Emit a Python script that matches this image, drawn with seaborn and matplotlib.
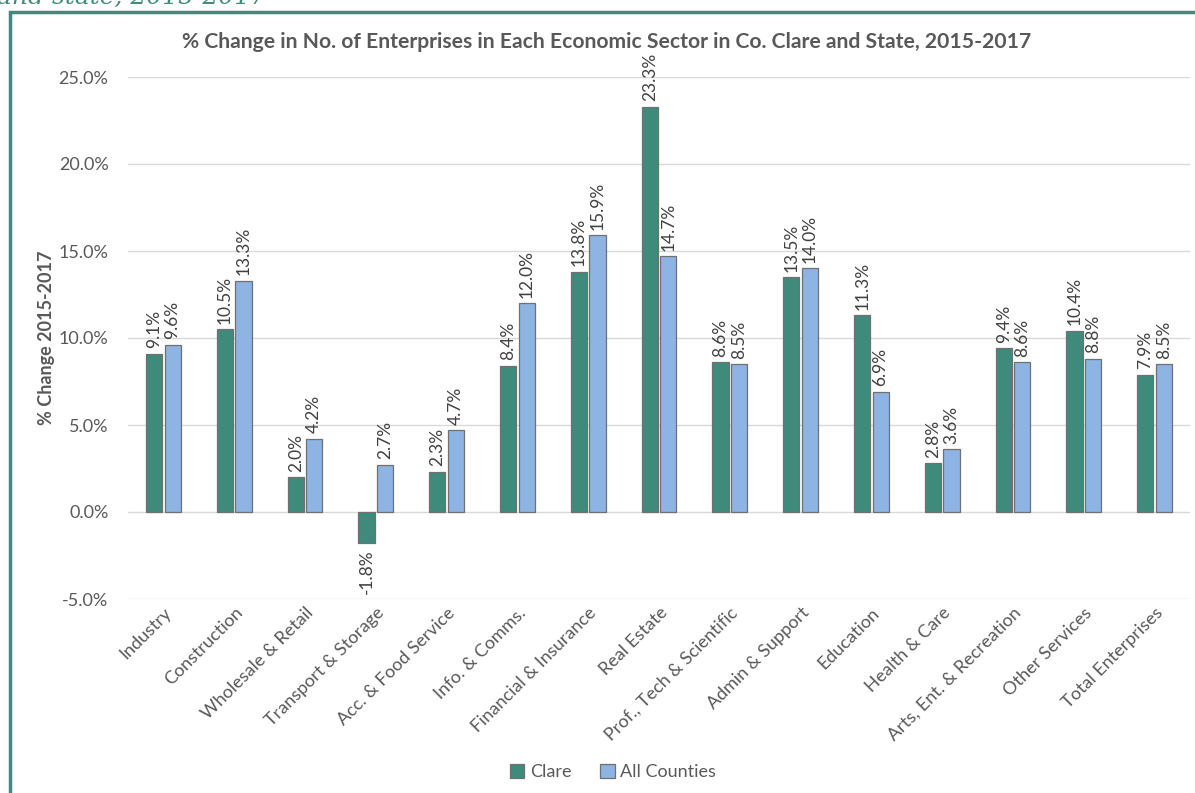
import matplotlib
matplotlib.use("Agg")
import matplotlib.pyplot as plt
import seaborn as sns
import pandas as pd
from matplotlib.ticker import FuncFormatter, MultipleLocator
from matplotlib.patches import Rectangle

sectors = ["Industry", "Construction", "Wholesale & Retail", "Transport & Storage",
           "Acc. & Food Service", "Info. & Comms.", "Financial & Insurance", "Real Estate",
           "Prof., Tech & Scientific", "Admin & Support", "Education", "Health & Care",
           "Arts, Ent. & Recreation", "Other Services", "Total Enterprises"]
clare = [9.1, 10.5, 2.0, -1.8, 2.3, 8.4, 13.8, 23.3, 8.6, 13.5, 11.3, 2.8, 9.4, 10.4, 7.9]
all_counties = [9.6, 13.3, 4.2, 2.7, 4.7, 12.0, 15.9, 14.7, 8.5, 14.0, 6.9, 3.6, 8.6, 8.8, 8.5]
series = ["Clare", "All Counties"]

df = pd.DataFrame({
    "Sector": sectors * 2,
    "Series": [series[0]] * len(sectors) + [series[1]] * len(sectors),
    "Value": clare + all_counties,
})

sns.set_theme(style="white")
plt.rcParams['font.family'] = ['Lato', 'DejaVu Sans']

fig = plt.figure(figsize=(11.95, 7.93), dpi=100)
ax = fig.add_axes([128/1195, 1-599/793, (1190-128)/1195, (599-77)/793])

palette = {"Clare": "#3E8A7B", "All Counties": "#8DB4E2"}
sns.barplot(data=df, x="Sector", y="Value", hue="Series", palette=palette, saturation=1,
            width=0.52, gap=0.12, edgecolor="#707070", linewidth=0.9,
            ax=ax, legend=True, zorder=3)

ax.set_ylim(-5, 25)
ax.yaxis.set_major_locator(MultipleLocator(5))
ax.yaxis.set_major_formatter(FuncFormatter(lambda v, p: f"{v:.1f}%"))
ax.grid(axis="y", color="#D9D9D9", linewidth=1.0, zorder=0)
ax.set_axisbelow(True)
for s in ax.spines.values():
    s.set_visible(False)
ax.tick_params(axis="both", length=0, labelsize=13, colors="#595959")
ax.tick_params(axis="y", pad=14)
ax.tick_params(axis="x", pad=4)
plt.setp(ax.get_xticklabels(), rotation=45, ha="right", rotation_mode="anchor")
ax.set_xlabel("")
ax.set_ylabel("% Change 2015-2017", fontsize=13, fontweight="bold", color="#595959", labelpad=3)

for cont in ax.containers:
    labels = [f"{b.get_height():.1f}%" for b in cont]
    ax.bar_label(cont, labels=labels, rotation=90, padding=4, fontsize=12.5, color="#404040")

leg = ax.legend(loc="center", bbox_to_anchor=((613-128)/1062, -173/522), ncol=2, frameon=False,
                fontsize=13, handlelength=0.8, handleheight=0.8, columnspacing=1.6, handletextpad=0.3)
for t in leg.get_texts():
    t.set_color("#595959")

fig.text(607/1195, 1-42/793, "% Change in No. of Enterprises in Each Economic Sector in Co. Clare and State, 2015-2017",
         ha="center", va="center", fontsize=15.2, fontweight="bold", color="#595959")

# frame and cut-off heading above
top = 1 - 12/793
fig.patches.append(Rectangle((10/1195, -0.2), 1.2, top + 0.2, transform=fig.transFigure,
                             fill=False, edgecolor="#3F8C7D", linewidth=2.5))
fig.text(-3/1195, 1-4/793, "and state, 2015-2017", family="DejaVu Serif", style="italic",
         fontsize=18, color="#3F8C7D", ha="left", va="baseline")

fig.savefig("out.png", dpi=100)
